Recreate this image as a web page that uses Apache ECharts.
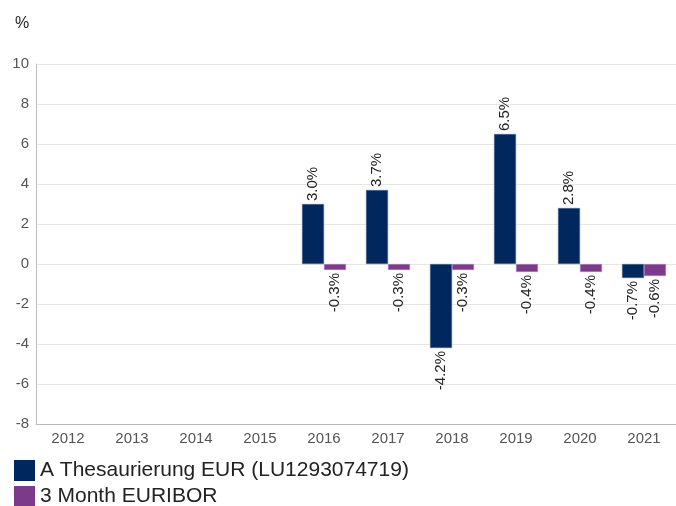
<!DOCTYPE html>
<html>
<head>
<meta charset="utf-8">
<script src="https://cdn.jsdelivr.net/npm/echarts@6/dist/echarts.min.js"></script>
<style>
  html, body { margin: 0; padding: 0; background: #fff; }
  #main { width: 676px; height: 506px; }
</style>
</head>
<body>
<div id="main"></div>
<script>
// Jahre und Werte (in %)
const years = ['2012', '2013', '2014', '2015', '2016', '2017', '2018', '2019', '2020', '2021'];
const fundValues = [null, null, null, null, 3.0, 3.7, -4.2, 6.5, 2.8, -0.7];
const euriborValues = [null, null, null, null, -0.3, -0.3, -0.3, -0.4, -0.4, -0.6];
const seriesNames = ['A Thesaurierung EUR (LU1293074719)', '3 Month EURIBOR'];

const fontFamily = '"Liberation Sans", Arial, sans-serif';

// Label oben bei positiven, unten bei negativen Werten
function withLabels(values) {
    return values.map(v => {
        if (v === null) return null;
        const pos = v >= 0;
        return {
            value: v,
            label: {
                position: pos ? 'top' : 'bottom',
                align: pos ? 'left' : 'right'
            }
        };
    });
}

const labelStyle = {
    show: true,
    rotate: 90,
    verticalAlign: 'middle',
    distance: 3,
    color: '#222',
    fontSize: 15,
    fontFamily: fontFamily,
    formatter: p => p.value.toFixed(1) + '%'
};

// je eine Legende pro Zeile
function legendRow(name, top) {
    return {
        orient: 'vertical',
        left: 14,
        top: top,
        padding: 0,
        itemWidth: 21,
        itemHeight: 21,
        itemGap: 6,
        icon: 'rect',
        itemStyle: { borderWidth: 0 },
        textStyle: { fontSize: 21, color: '#222', fontFamily: fontFamily },
        data: [name]
    };
}

const chart = echarts.init(document.getElementById('main'));
chart.setOption({
    animation: false,
    textStyle: { fontFamily: fontFamily },
    title: {
        text: '%',
        left: 10,
        top: 11,
        textStyle: { fontSize: 16, fontWeight: 'normal', color: '#222', fontFamily: fontFamily }
    },
    legend: [legendRow(seriesNames[0], 460), legendRow(seriesNames[1], 486)],
    grid: { left: 36, right: -4, top: 64, bottom: 82, containLabel: false },
    xAxis: {
        type: 'category',
        data: years,
        axisLine: { onZero: false, lineStyle: { color: '#bbb' } },
        axisTick: { show: false },
        axisLabel: { color: '#555', fontSize: 15, margin: 7 }
    },
    yAxis: {
        type: 'value',
        min: -8,
        max: 10,
        interval: 2,
        axisLine: { show: true, lineStyle: { color: '#bbb' } },
        axisTick: { show: false },
        axisLabel: { color: '#555', fontSize: 15, margin: 7 },
        splitLine: { lineStyle: { color: '#e6e6e6' } }
    },
    series: [
        {
            name: seriesNames[0],
            type: 'bar',
            data: withLabels(fundValues),
            barWidth: 22,
            barGap: '0%',
            itemStyle: { color: '#00285e', borderColor: '#5a6f94', borderWidth: 0.5 },
            label: labelStyle
        },
        {
            name: seriesNames[1],
            type: 'bar',
            data: withLabels(euriborValues),
            barWidth: 22,
            barGap: '0%',
            itemStyle: { color: '#7b3a8a', borderColor: '#b48fc0', borderWidth: 0.5 },
            label: labelStyle
        }
    ]
});
</script>
</body>
</html>
